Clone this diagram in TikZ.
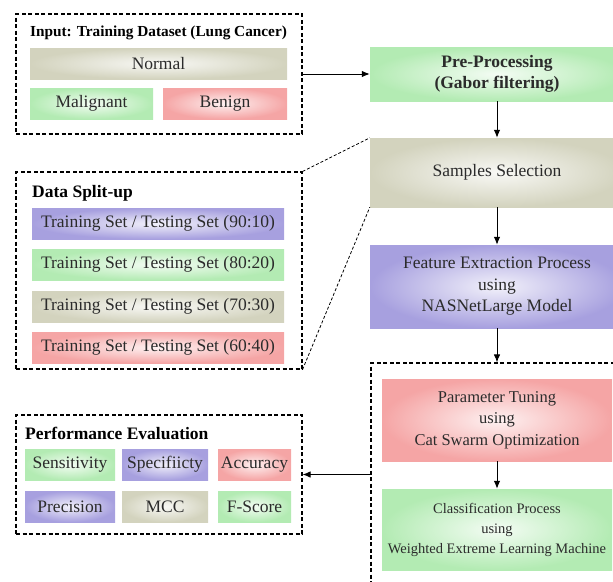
\documentclass[tikz,border=0pt]{standalone}
\usepackage{fontspec}
\setmainfont{Liberation Serif}[UprightFont={Liberation Serif}, BoldFont={Liberation Serif Bold}]
\usepackage{tikz}
\usetikzlibrary{arrows.meta}

\definecolor{grn}{HTML}{B3EBB3}
\definecolor{tan}{HTML}{D3D3BE}
\definecolor{prp}{HTML}{A7A0DF}
\definecolor{rd}{HTML}{F5A5A5}
\definecolor{txt}{HTML}{2B2B2B}

\begin{document}
\begin{tikzpicture}[x=1pt,y=-1pt,
    box/.style={shading=radial, outer color=#1, inner color=#1!15!white, inner sep=0pt,
        text=txt, align=center, font=\rmfamily\mdseries\fontsize{17.5}{21.5}\selectfont},
    frame/.style={draw, line width=1.1pt, dash pattern=on 4pt off 2.5pt, inner sep=0pt},
    zoomline/.style={line width=0.8pt, dash pattern=on 3pt off 2pt},
    ttl/.style={inner sep=0pt, font=\rmfamily\bfseries\fontsize{17.5}{21.5}\selectfont},
    arr/.style={line width=1pt, -{Latex[length=8pt,width=6.5pt]}}]

\useasboundingbox (0,0) rectangle (613,581);
\clip (0,0) rectangle (613,581);

\node[frame, minimum width=286, minimum height=120] (input) at (159,74) {};
\node[frame, minimum width=286, minimum height=197] (split) at (159,270.5) {};
\node[frame, minimum width=286, minimum height=119] (perf) at (159,474.5) {};
\node[frame, minimum width=252, minimum height=240] (tune) at (497,483) {};

\node[ttl, font=\rmfamily\bfseries\fontsize{15.3}{18}\selectfont] (intitle) at (158.5,33) {Input: Training Dataset (Lung Cancer)};
\node[box=tan, minimum width=257, minimum height=31] (normal) at (158.5,63.5) {Normal};
\node[box=grn, minimum width=123, minimum height=31] (malig) at (91.5,103.5) {Malignant};
\node[box=rd, minimum width=124, minimum height=31] (benign) at (225,103.5) {Benign};

\node[ttl, anchor=west] (splittitle) at (32,193) {Data Split-up};
\foreach \c/\y/\r in {prp/223.5/90:10, grn/264.5/80:20, tan/306.5/70:30, rd/347.5/60:40}
    \node[box=\c, minimum width=252, minimum height=31] (set\y) at (158,\y) {Training Set / Testing Set (\r)};

\node[ttl, anchor=west] (perftitle) at (25,433) {Performance Evaluation};
\node[box=grn, minimum width=90, minimum height=31] (sens) at (70,464.5) {Sensitivity};
\node[box=prp, minimum width=86, minimum height=31] (spec) at (165,464.5) {Specifiicty};
\node[box=rd, minimum width=73, minimum height=31] (acc) at (254.5,464.5) {Accuracy};
\node[box=prp, minimum width=90, minimum height=31] (prec) at (70,506.5) {Precision};
\node[box=tan, minimum width=86, minimum height=31] (mcc) at (165,506.5) {MCC};
\node[box=grn, minimum width=73, minimum height=31] (fscore) at (254.5,506.5) {F-Score};

\node[box=grn, minimum width=254, minimum height=54, font=\rmfamily\bfseries\fontsize{17.5}{21.5}\selectfont] (pre) at (497,74) {Pre-Processing\\(Gabor filtering)};
\node[box=tan, minimum width=254, minimum height=69] (sel) at (497,172.5) {Samples Selection};
\node[box=prp, minimum width=254, minimum height=83] (feat) at (497,286.5) {Feature Extraction Process\\using\\NASNetLarge Model};
\node[box=rd, minimum width=230, minimum height=82, font=\rmfamily\fontsize{16.5}{21.5}\selectfont] (param) at (497,420) {Parameter Tuning\\using\\Cat Swarm Optimization};
\node[box=grn, minimum width=230, minimum height=81, font=\rmfamily\fontsize{14.5}{20}\selectfont] (cls) at (497,529.5) {Classification Process\\using\\Weighted Extreme Learning Machine};

\draw[arr] (input.east) -- (pre.west);
\draw[arr] (pre) -- (sel);
\draw[arr] (sel) -- (feat);
\draw[arr] (feat) -- (tune.north);
\draw[arr] (param) -- (cls);
\draw[arr] (tune.west |- perf.east) -- (perf.east);

\draw[zoomline] (split.north east) -- (sel.north west);
\draw[zoomline] (split.south east) -- (sel.south west);

\end{tikzpicture}
\end{document}
